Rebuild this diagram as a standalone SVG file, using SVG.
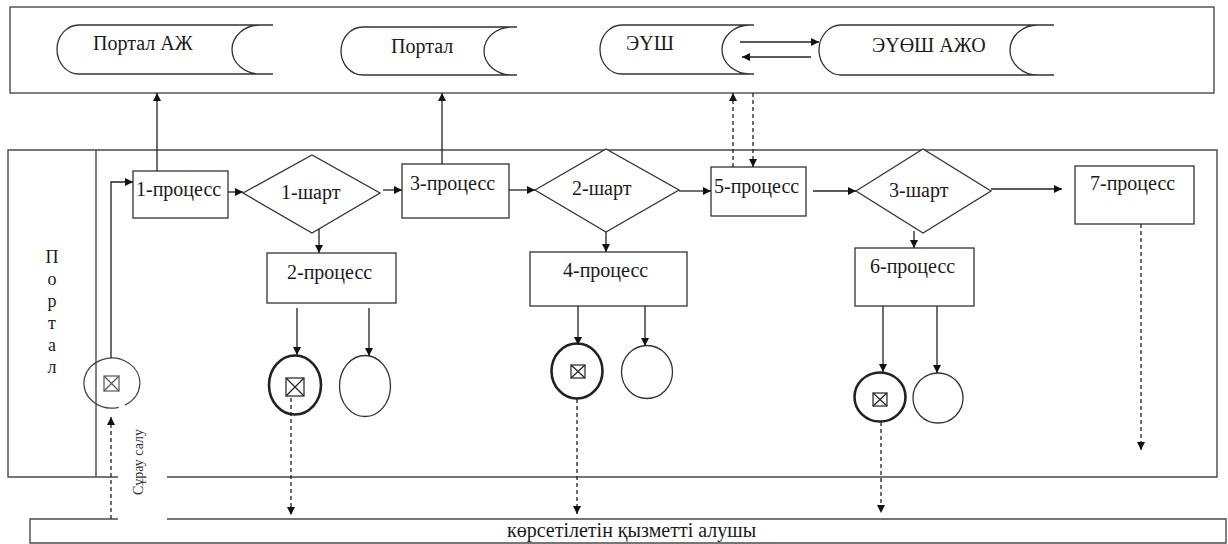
<svg xmlns="http://www.w3.org/2000/svg" width="1228" height="544" viewBox="0 0 1228 544" font-family="Liberation Serif, DejaVu Serif, serif">
<style>
  .frame{fill:none;stroke:#4a4a4a;stroke-width:1.4}
  .box{fill:#fff;stroke:#333;stroke-width:1.3}
  .store{fill:none;stroke:#333;stroke-width:1.3}
  .lbl{font-family:'Liberation Serif','DejaVu Serif',serif;font-size:20px;fill:#1a1a1a}
  .small{font-family:'Liberation Serif','DejaVu Serif',serif;font-size:14px;fill:#333}
  .edge{fill:none;stroke:#222;stroke-width:1.3}
  .dash{fill:none;stroke:#222;stroke-width:1.3;stroke-dasharray:4 3}
  .bold{fill:#fff;stroke:#222;stroke-width:2.6}
  .thin{fill:#fff;stroke:#333;stroke-width:1.3}
  .xbox{fill:none;stroke:#222;stroke-width:1.2}
</style>
<defs>
  <marker id="ah" viewBox="0 0 10 10" refX="10" refY="5" markerWidth="9" markerHeight="8" markerUnits="userSpaceOnUse" orient="auto">
    <path d="M0,0 L10,5 L0,10 z" fill="#111"/>
  </marker>
</defs>

<!-- frames -->
<g id="top-pool">
  <rect class="frame" x="10" y="7" width="1204" height="86"/>
</g>
<g id="portal-pool">
  <path class="frame" d="M118,477 H8 V150 H1217 V477 H167"/>
  <path class="frame" d="M96,150 V477"/>
  <g class="lbl" text-anchor="middle" style="font-size:18px">
    <text x="52" y="263">П</text>
    <text x="52" y="285">о</text>
    <text x="52" y="307">р</text>
    <text x="52" y="329">т</text>
    <text x="52" y="351">а</text>
    <text x="52" y="373">л</text>
  </g>
</g>
<g id="recipient-pool">
  <path class="frame" d="M118,519 H30 V543 H1226 V519 H167"/>
  <text class="lbl" x="507" y="537">көрсетілетін қызметті алушы</text>
</g>

<!-- top data stores -->
<g id="store-portal-azh">
  <path class="store" d="M79,25 H273 M79,25 A22,24.5 0 0 0 79,74 H273 M260,25 A28,24.5 0 0 0 260,74"/>
  <text class="lbl" x="93" y="50">Портал АЖ</text>
</g>
<g id="store-portal">
  <path class="store" d="M363,27 H517 M363,27 A22,24 0 0 0 363,75 H517 M512,27 A28,24 0 0 0 512,75"/>
  <text class="lbl" x="391" y="53">Портал</text>
</g>
<g id="store-eush">
  <path class="store" d="M622,25 H754 M622,25 A22,24.5 0 0 0 622,74 H754 M750,25 A28,24.5 0 0 0 750,74"/>
  <text class="lbl" x="626" y="50">ЭҮШ</text>
</g>
<g id="store-euoesh">
  <path class="store" d="M841,25 H1054 M841,25 A22,25 0 0 0 841,75 H1054 M1038,25 A28,25 0 0 0 1038,75"/>
  <text class="lbl" x="872" y="52">ЭҮӨШ АЖО</text>
</g>

<!-- process nodes -->
<g id="p1"><rect class="box" x="133" y="171" width="95" height="47"/><text class="lbl" x="136" y="196">1-процесс</text></g>
<g id="p2"><rect class="box" x="267" y="253" width="129" height="50"/><text class="lbl" x="287" y="279">2-процесс</text></g>
<g id="p3"><rect class="box" x="402" y="164" width="107" height="54"/><text class="lbl" x="410" y="190">3-процесс</text></g>
<g id="p4"><rect class="box" x="530" y="252" width="157" height="54"/><text class="lbl" x="563" y="277">4-процесс</text></g>
<g id="p5"><rect class="box" x="711" y="167" width="95" height="49"/><text class="lbl" x="714" y="193">5-процесс</text></g>
<g id="p6"><rect class="box" x="855" y="248" width="119" height="58"/><text class="lbl" x="870" y="273">6-процесс</text></g>
<g id="p7"><rect class="box" x="1075" y="166" width="119" height="58"/><text class="lbl" x="1090" y="190">7-процесс</text></g>

<!-- decisions -->
<g id="d1"><path class="box" d="M243,193 L312,155 L380,193 L312,233 Z"/><text class="lbl" x="281" y="199">1-шарт</text></g>
<g id="d2"><path class="box" d="M535,190 L606,149 L679,190 L606,232 Z"/><text class="lbl" x="572" y="195">2-шарт</text></g>
<g id="d3"><path class="box" d="M856,191 L923,149 L991,191 L923,233 Z"/><text class="lbl" x="889" y="197">3-шарт</text></g>

<!-- events -->
<g id="start">
  <path class="thin" style="fill:none;stroke:#444" d="M118.8,407.3 A28,25 0 1 1 125.1,405.1"/>
  <rect class="xbox" style="stroke:#555" x="104" y="376" width="15" height="15"/>
  <path class="xbox" style="stroke:#555" d="M104,376 L119,391 M119,376 L104,391"/>
</g>
<g id="end1">
  <ellipse class="bold" cx="295" cy="385" rx="26" ry="29.5"/>
  <rect class="xbox" x="286" y="378" width="18" height="18"/>
  <path class="xbox" d="M286,378 L304,396 M304,378 L286,396"/>
</g>
<g id="circle1"><ellipse class="thin" cx="365" cy="386" rx="25.5" ry="30.5"/></g>
<g id="end2">
  <ellipse class="bold" cx="577" cy="371" rx="25.5" ry="27.5"/>
  <rect class="xbox" x="571" y="365" width="14" height="13"/>
  <path class="xbox" d="M571,365 L585,378 M585,365 L571,378"/>
</g>
<g id="circle2"><ellipse class="thin" cx="647" cy="372" rx="25.5" ry="26.5"/></g>
<g id="end3">
  <ellipse class="bold" cx="880" cy="397" rx="25.5" ry="24.5"/>
  <rect class="xbox" x="873" y="393" width="14" height="13"/>
  <path class="xbox" d="M873,393 L887,406 M887,393 L873,406"/>
</g>
<g id="circle3"><ellipse class="thin" cx="938" cy="398" rx="25" ry="25"/></g>

<!-- connectors -->
<g id="connectors">
  <path class="edge" marker-end="url(#ah)" d="M111,358 V182 H133"/>
  <path class="edge" marker-end="url(#ah)" d="M157,171 V93"/>
  <path class="edge" marker-end="url(#ah)" d="M228,192 H243"/>
  <path class="edge" marker-end="url(#ah)" d="M383,190 H402"/>
  <path class="edge" marker-end="url(#ah)" d="M319,229 V253"/>
  <path class="edge" marker-end="url(#ah)" d="M442,164 V93"/>
  <path class="edge" marker-end="url(#ah)" d="M509,190 H535"/>
  <path class="edge" marker-end="url(#ah)" d="M679,191 H711"/>
  <path class="edge" marker-end="url(#ah)" d="M606,232 V252"/>
  <path class="dash" marker-end="url(#ah)" d="M733,167 V93"/>
  <path class="dash" marker-end="url(#ah)" d="M753,93 V167"/>
  <path class="edge" marker-end="url(#ah)" d="M813,191 H856"/>
  <path class="edge" marker-end="url(#ah)" d="M991,189 H1062"/>
  <path class="edge" marker-end="url(#ah)" d="M914,231 V248"/>
  <path class="edge" marker-end="url(#ah)" d="M740,42 H819"/>
  <path class="edge" marker-end="url(#ah)" d="M811,57 H742"/>
  <path class="edge" marker-end="url(#ah)" d="M297,308 V355"/>
  <path class="edge" marker-end="url(#ah)" d="M369,308 V356"/>
  <path class="edge" marker-end="url(#ah)" d="M578,306 V345"/>
  <path class="edge" marker-end="url(#ah)" d="M645,306 V346"/>
  <path class="edge" marker-end="url(#ah)" d="M883,306 V372"/>
  <path class="edge" marker-end="url(#ah)" d="M937,306 V373"/>
  <path class="dash" marker-end="url(#ah)" d="M291,398 V515"/>
  <path class="dash" marker-end="url(#ah)" d="M577,399 V514"/>
  <path class="dash" marker-end="url(#ah)" d="M881,422 V513"/>
  <path class="dash" marker-end="url(#ah)" d="M1141,224 V450"/>
  <path class="dash" marker-end="url(#ah)" d="M111,519 V417"/>
  <text class="small" transform="translate(143,462) rotate(-90)" text-anchor="middle">Сұрау салу</text>
</g>
</svg>
